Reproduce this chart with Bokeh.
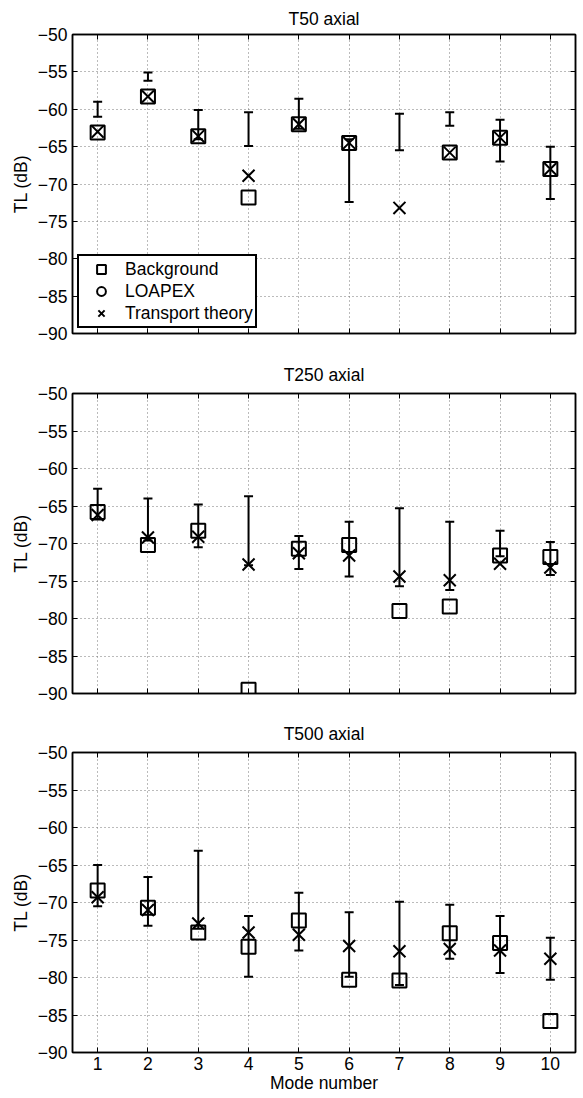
import numpy as np
from bokeh.plotting import figure
from bokeh.layouts import column
from bokeh.models import (ColumnDataSource, Whisker, TeeHead, LinearAxis, FixedTicker,
                          Legend, LegendItem, Range1d)
from bokeh.embed import file_html
from bokeh.resources import INLINE

modes = [1, 2, 3, 4, 5, 6, 7, 8, 9, 10]
yticks = [-90, -85, -80, -75, -70, -65, -60, -55, -50]

# T50 axial
bg50 = [-63.1, -58.3, -63.6, -71.8, -62.0, -64.5, np.nan, -65.8, -63.8, -68.0]
tt50 = [-63.0, -58.3, -63.6, -68.9, -62.0, -64.5, -73.2, -65.8, -63.8, -68.0]
up50 = [-59.0, -55.1, -60.1, -60.4, -58.6, -64.0, -60.6, -60.4, -61.4, -65.0]
lo50 = [-61.0, -56.2, -64.0, -64.9, -62.6, -72.4, -65.5, -62.2, -67.0, -72.0]

# T250 axial
bg250 = [-65.8, -70.2, -68.3, -89.5, -70.7, -70.2, -79.0, -78.4, -71.6, -71.8]
tt250 = [-66.2, -69.2, -69.1, -72.8, -71.3, -71.6, -74.4, -74.9, -72.7, -73.2]
up250 = [-62.7, -64.0, -64.8, -63.7, -69.0, -67.1, -65.3, -67.1, -68.3, -69.8]
lo250 = [-66.8, -69.6, -70.5, -72.9, -73.4, -74.4, -75.7, -76.2, -71.7, -74.2]

# T500 axial
bg500 = [-68.4, -70.7, -74.0, -75.9, -72.4, -80.3, -80.4, -74.1, -75.4, -85.8]
tt500 = [-69.3, -71.0, -72.8, -74.0, -74.3, -75.8, -76.5, -76.2, -76.4, -77.5]
up500 = [-65.0, -66.6, -63.1, -71.8, -68.7, -71.3, -69.9, -70.3, -71.8, -74.7]
lo500 = [-70.5, -73.1, -73.5, -79.9, -76.4, -79.9, -81.0, -77.5, -79.4, -80.3]

FONT = "Liberation Sans"
FS = "17.5px"


def style_axis(ax, ticks, show_labels, standoff=5):
    ax.ticker = FixedTicker(ticks=ticks)
    ax.major_tick_in = 5
    ax.major_tick_out = 0
    ax.minor_tick_line_color = None
    ax.axis_line_color = "black"
    ax.axis_line_width = 1.5
    ax.major_tick_line_color = "black"
    ax.major_tick_line_width = 1
    ax.major_label_text_font = FONT
    ax.major_label_text_color = "black"
    if show_labels:
        ax.major_label_text_font_size = FS
        ax.major_label_standoff = standoff
    else:
        ax.major_label_overrides = {t: "" for t in ticks}
        ax.major_label_text_font_size = "1px"
        ax.major_label_text_color = None
        ax.major_label_standoff = 0


def make_panel(title, bg, tt, up, lo, h, top_b, bot_b, t_standoff, show_x, show_legend):
    p = figure(width=577, height=h, output_backend="svg",
               toolbar_location=None, x_range=Range1d(0.5, 10.5),
               y_range=Range1d(-90, -50), min_border_left=72, min_border_right=2,
               min_border_top=top_b, min_border_bottom=bot_b,
               background_fill_color="white", border_fill_color="white")
    p.title.text = title
    p.title.align = "center"
    p.title.text_font = FONT
    p.title.text_font_size = FS
    p.title.text_font_style = "normal"
    p.title.text_color = "black"
    p.title.standoff = t_standoff
    p.outline_line_color = "black"
    p.outline_line_width = 1.5
    p.outline_line_alpha = 1

    for ax in p.xaxis:
        style_axis(ax, modes, show_x, standoff=4)
    for ax in p.yaxis:
        style_axis(ax, yticks, True)
        ax.major_label_overrides = {t: "\u2212" + str(abs(t)) for t in yticks}
        ax.axis_label = "TL (dB)"
        ax.axis_label_text_font = FONT
        ax.axis_label_text_font_size = FS
        ax.axis_label_text_font_style = "normal"
        ax.axis_label_text_color = "black"
        ax.axis_label_standoff = 4
    if show_x:
        p.xaxis.axis_label = "Mode number"
        p.xaxis.axis_label_text_font = FONT
        p.xaxis.axis_label_text_font_size = FS
        p.xaxis.axis_label_text_font_style = "normal"
        p.xaxis.axis_label_text_color = "black"
        p.xaxis.axis_label_standoff = 0

    top = LinearAxis()
    style_axis(top, modes, False)
    p.add_layout(top, "above")
    right = LinearAxis()
    style_axis(right, yticks, False)
    p.add_layout(right, "right")

    p.xgrid.ticker = FixedTicker(ticks=modes)
    p.ygrid.ticker = FixedTicker(ticks=yticks)
    for g in (p.xgrid, p.ygrid):
        g.grid_line_color = "#777777"
        g.grid_line_dash = "1 3"
        g.grid_line_width = 1
        g.grid_line_alpha = 1

    src = ColumnDataSource(dict(x=modes, bg=bg, tt=tt, up=up, lo=lo,
                                lx=[np.nan] * len(modes)))
    w = Whisker(source=src, base="x", upper="up", lower="lo",
                line_width=2, line_color="black",
                upper_head=TeeHead(size=9, line_width=2, line_color="black"),
                lower_head=TeeHead(size=9, line_width=2, line_color="black"))
    p.add_layout(w)

    r_bg = p.scatter("x", "bg", source=src, marker="square", size=14,
                     fill_color=None, line_color="black", line_width=2)
    r_lx = p.scatter("x", "lx", source=src, marker="circle", size=14,
                     fill_color=None, line_color="black", line_width=2)
    r_tt = p.scatter("x", "tt", source=src, marker="x", size=17,
                     line_color="black", line_width=2)

    if show_legend:
        leg = Legend(items=[LegendItem(label="Background", renderers=[r_bg]),
                            LegendItem(label="LOAPEX", renderers=[r_lx]),
                            LegendItem(label="Transport theory", renderers=[r_tt])],
                     location="bottom_left")
        leg.label_text_font = FONT
        leg.label_text_font_size = FS
        leg.label_text_color = "black"
        leg.glyph_width = 40
        leg.glyph_height = 22
        leg.label_height = 22
        leg.spacing = 0
        leg.padding = 2
        leg.label_standoff = 4
        leg.margin = 5
        leg.border_line_color = "black"
        leg.border_line_width = 2
        leg.border_line_alpha = 1
        leg.background_fill_color = "white"
        leg.background_fill_alpha = 1
        p.add_layout(leg)
    return p


p1 = make_panel("T50 axial", bg50, tt50, up50, lo50, 348, 33, 15, 12, False, True)
p2 = make_panel("T250 axial", bg250, tt250, up250, lo250, 360, 45, 15, 18, False, False)
p3 = make_panel("T500 axial", bg500, tt500, up500, lo500, 390, 44, 46, 18, True, False)

layout = column(p1, p2, p3, spacing=0)
open("out.html", "w").write(file_html(layout, INLINE))
